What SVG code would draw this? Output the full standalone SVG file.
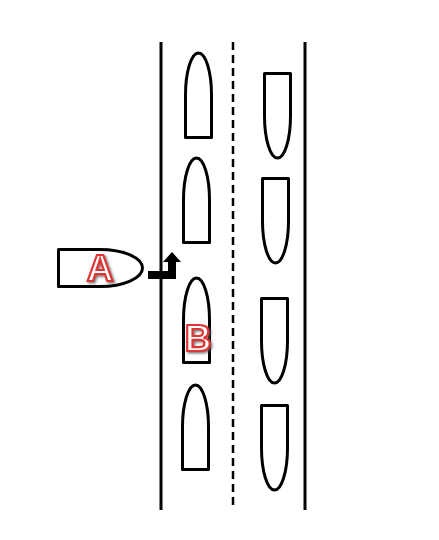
<svg xmlns="http://www.w3.org/2000/svg" width="439" height="540" viewBox="0 0 439 540">
<defs>
<filter id="sh" x="-20%" y="-20%" width="150%" height="150%">
<feDropShadow dx="1.5" dy="1.5" stdDeviation="0.8" flood-color="#555" flood-opacity="0.8"/>
</filter>
</defs>
<style>
.road{stroke:#000;stroke-width:3;fill:none}
.dash{stroke:#000;stroke-width:2.5;fill:none;stroke-dasharray:8 5}
.car{fill:#fff;stroke:#000;stroke-width:3;stroke-linejoin:round}
.lbl{font-family:"Liberation Sans",Arial,sans-serif;font-weight:bold;font-size:37px;text-anchor:middle;fill:#fff;stroke:#e03434;stroke-width:2.2;filter:url(#sh)}
</style>
<rect width="439" height="540" fill="#fff"/>
<g id="road">
<line class="road" x1="161" y1="42" x2="161" y2="510"/>
<line class="dash" x1="233" y1="42" x2="233" y2="510"/>
<line class="road" x1="305" y1="42" x2="305" y2="510"/>
</g>
<g id="car-l1"><path class="car" d="M185.5,137.5 L185.5,95 A13 42 0 0 1 211.5,95 L211.5,137.5 Z"/></g>
<g id="car-l2"><path class="car" d="M183.5,242.5 L183.5,200 A13 42 0 0 1 209.5,200 L209.5,242.5 Z"/></g>
<g id="car-B"><path class="car" d="M183.5,362.5 L183.5,320 A13 42 0 0 1 209.5,320 L209.5,362.5 Z"/>
<text class="lbl" x="198" y="351">B</text></g>
<g id="car-l4"><path class="car" d="M182.5,469.5 L182.5,427 A13 42 0 0 1 208.5,427 L208.5,469.5 Z"/></g>
<g id="car-r1"><path class="car" d="M264.5,73.5 L290.5,73.5 L290.5,116 A13 42 0 0 1 264.5,116 Z"/></g>
<g id="car-r2"><path class="car" d="M262.5,178.5 L288.5,178.5 L288.5,221 A13 42 0 0 1 262.5,221 Z"/></g>
<g id="car-r3"><path class="car" d="M261.5,298.5 L287.5,298.5 L287.5,341 A13 42 0 0 1 261.5,341 Z"/></g>
<g id="car-r4"><path class="car" d="M261.5,405.5 L287.5,405.5 L287.5,448 A13 42 0 0 1 261.5,448 Z"/></g>
<g id="car-A"><path class="car" d="M58.5,249.5 L100,249.5 A42.5 18.5 0 0 1 100,286.5 L58.5,286.5 Z"/>
<text class="lbl" x="100" y="281">A</text></g>
<g id="connectors">
<path d="M148,271 L168,271 L168,262 L163,262 L172,252 L181,262 L176,262 L176,279 L148,279 Z" fill="#000"/>
</g>
</svg>
